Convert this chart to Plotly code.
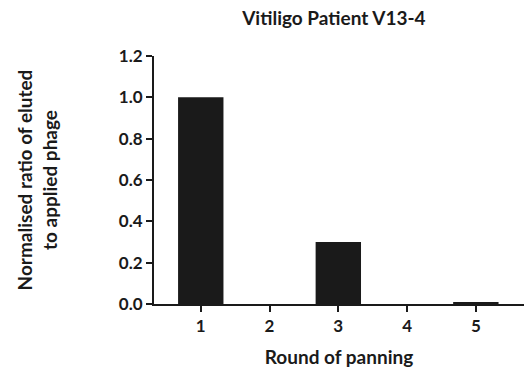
import plotly.graph_objects as go

rounds = [1, 2, 3, 4, 5]
tick_labels = ["1", "2", "3", "4", "5"]
ratios = [1.0, 0.0, 0.30, 0.0, 0.01]

title = "Vitiligo Patient V13-4"
x_title = "Round of panning"
y_title = "Normalised ratio of eluted<br>to applied phage"

FONT = "Lato, Carlito, Open Sans, sans-serif"

fig = go.Figure()
fig.add_trace(go.Bar(
    x=rounds, y=ratios, width=0.66,
    marker=dict(color="#1a1a1a", line=dict(width=0)),
))

fig.update_layout(
    width=530, height=373,
    margin=dict(l=154, r=6, t=56, b=69),
    paper_bgcolor="white", plot_bgcolor="white",
    showlegend=False,
    font=dict(family=FONT, color="#1a1a1a"),
    title=dict(text="<b>" + title + "</b>", x=0.63, xanchor="center",
               y=0.952, yanchor="middle", font=dict(size=19, family=FONT)),
)
fig.update_xaxes(
    range=[0.32, 5.7], tickmode="array", tickvals=rounds,
    ticktext=["<b>" + t + "</b>" for t in tick_labels],
    ticks="outside", ticklen=6, tickwidth=2, tickcolor="#1a1a1a",
    showline=True, linewidth=2, linecolor="#1a1a1a",
    showgrid=False, zeroline=False,
    tickfont=dict(size=17, family=FONT),
    title=dict(text="<b>" + x_title + "</b>", font=dict(size=19, family=FONT), standoff=15),
)
fig.update_yaxes(
    range=[0, 1.2], tickmode="array",
    tickvals=[0, 0.2, 0.4, 0.6, 0.8, 1.0, 1.2],
    ticktext=["<b>%.1f</b>" % v for v in [0, 0.2, 0.4, 0.6, 0.8, 1.0, 1.2]],
    ticks="outside", ticklen=6, tickwidth=2, tickcolor="#1a1a1a",
    showline=True, linewidth=2, linecolor="#1a1a1a",
    showgrid=False, zeroline=False,
    tickfont=dict(size=17, family=FONT),
    title=dict(text="<b>" + y_title + "</b>", font=dict(size=19, family=FONT), standoff=56),
)

fig.write_html("out.html")
